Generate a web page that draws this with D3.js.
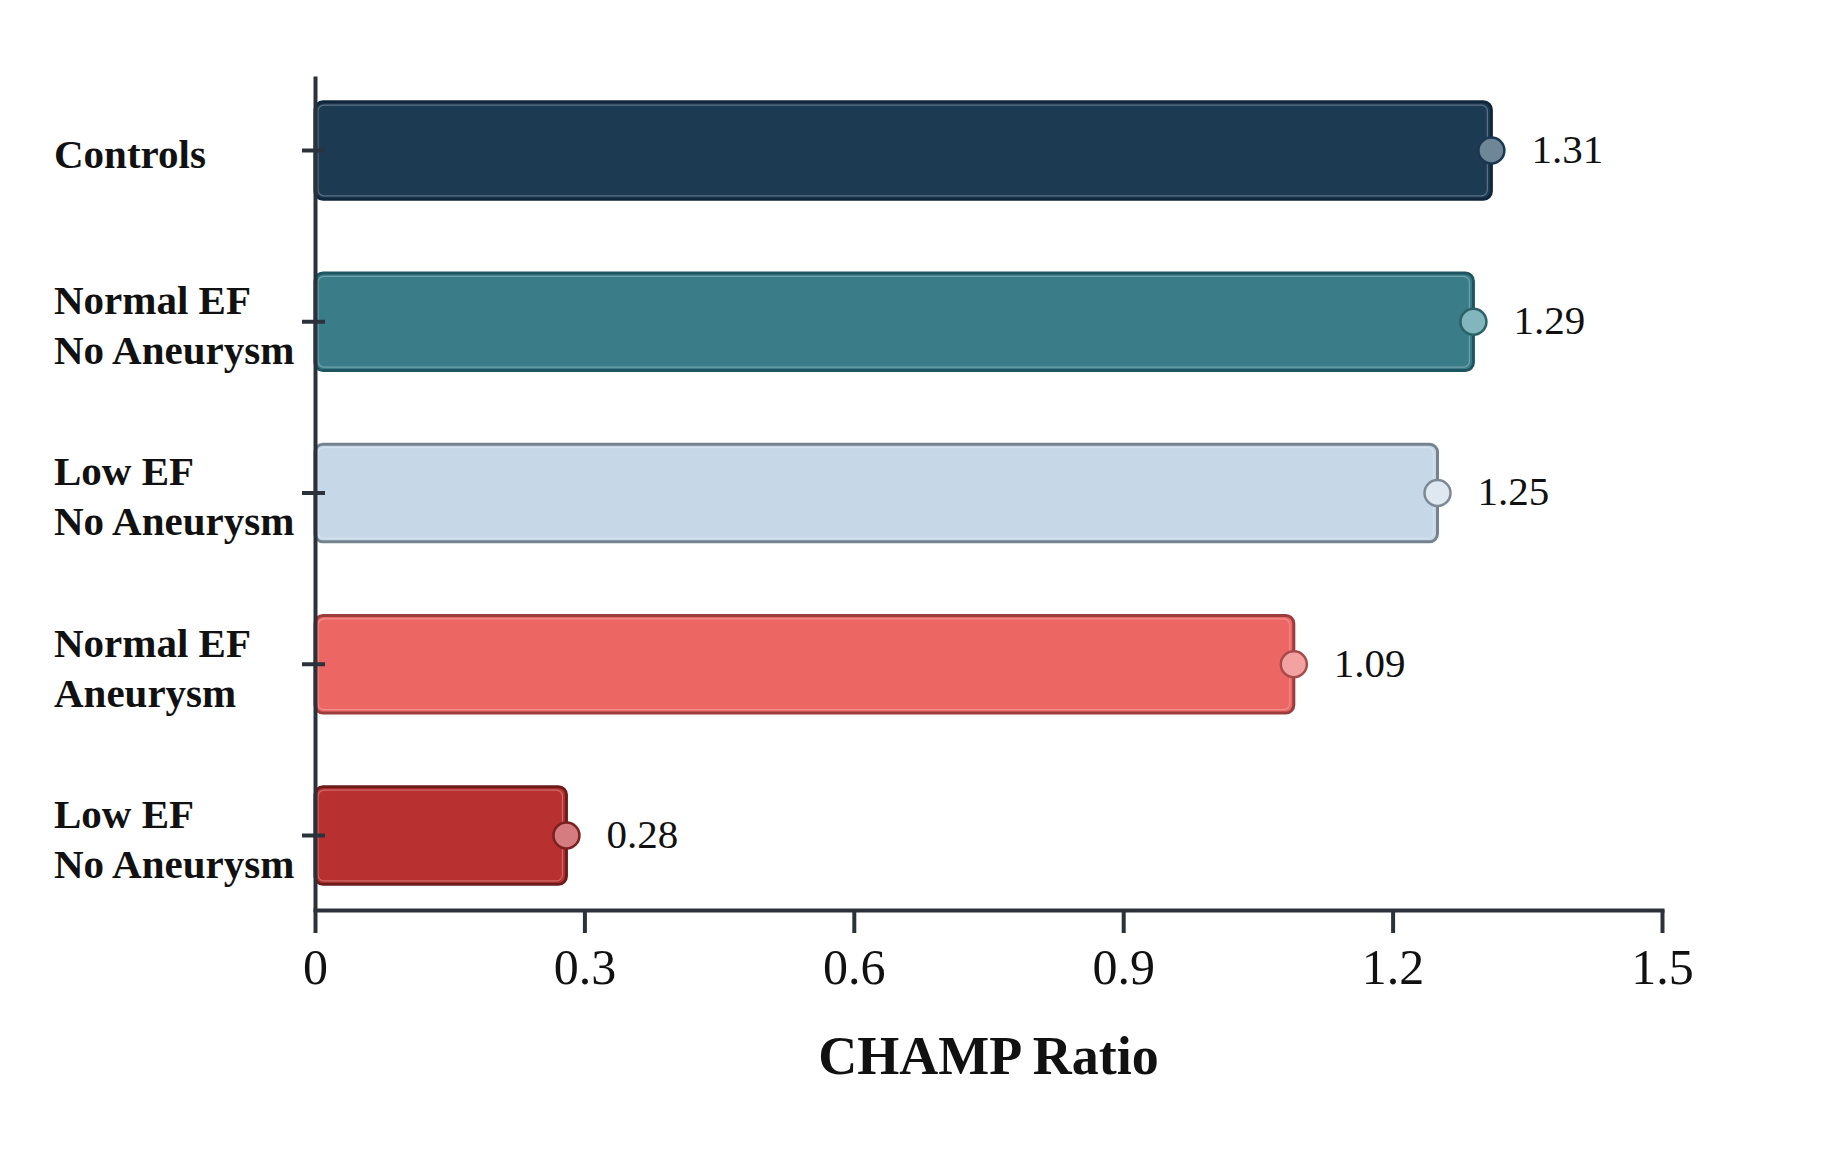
<!DOCTYPE html>
<html>
<head>
<meta charset="utf-8">
<script src="https://cdn.jsdelivr.net/npm/d3@7"></script>
<style>
  html, body { margin: 0; padding: 0; background: #fff; }
  svg { display: block; font-family: "Liberation Serif", "Times New Roman", serif; }
  .axis path, .axis line { stroke: #2b323b; stroke-width: 4; }
  .axis text { fill: #111; }
</style>
</head>
<body>
<div id="chart"></div>
<script>
// groups, top to bottom
const groupLines = [
  ["Controls"],
  ["Normal EF", "No Aneurysm"],
  ["Low EF", "No Aneurysm"],
  ["Normal EF", "Aneurysm"],
  ["Low EF", "No Aneurysm"]
];
const champRatio = [1.31, 1.29, 1.25, 1.09, 0.28];
const valueLabels = ["1.31", "1.29", "1.25", "1.09", "0.28"];

const xTicks = [0, 0.3, 0.6, 0.9, 1.2, 1.5];
const xTickLabels = ["0", "0.3", "0.6", "0.9", "1.2", "1.5"];
const xTitle = "CHAMP Ratio";

// fill / border / dot fill / dot border per bar
const barFill = ["#1d3a53", "#3a7d89", "#c6d7e8", "#ec6664", "#b83130"];
const barStroke = ["#10263a", "#1f5560", "#76828e", "#9c3d3d", "#6c1b1b"];
const dotFill = ["#6f8696", "#80b6bc", "#dfe7f0", "#f3a2a2", "#d57c80"];
const dotStroke = ["#1b3650", "#2a626a", "#7c8894", "#a84a4a", "#7c2020"];

const W = 1834, H = 1172;
const margin = { left: 315, right: 172, top: 76, bottom: 262 };

const svg = d3.select("#chart").append("svg")
  .attr("width", W)
  .attr("height", H);

const x = d3.scaleLinear()
  .domain([0, 1.5])
  .range([margin.left, W - margin.right]);

const y = d3.scaleBand()
  .domain(d3.range(groupLines.length))
  .range([margin.top, H - margin.bottom])
  .paddingInner(0.43)
  .paddingOuter(0.15);

// bars
const bars = svg.append("g").selectAll("g.bar")
  .data(champRatio)
  .join("g")
  .attr("class", "bar");

bars.append("rect")
  .attr("x", x(0))
  .attr("y", (d, i) => y(i))
  .attr("width", d => x(d) - x(0))
  .attr("height", y.bandwidth())
  .attr("rx", 8)
  .attr("fill", (d, i) => barFill[i])
  .attr("stroke", (d, i) => barStroke[i])
  .attr("stroke-width", 3);

// faint inner highlight line, like the original
bars.append("rect")
  .attr("x", x(0) + 3)
  .attr("y", (d, i) => y(i) + 3.5)
  .attr("width", d => x(d) - x(0) - 7)
  .attr("height", y.bandwidth() - 7)
  .attr("rx", 6)
  .attr("fill", "none")
  .attr("stroke", "rgba(255,255,255,0.28)")
  .attr("stroke-width", 1.2);

bars.append("circle")
  .attr("cx", d => x(d))
  .attr("cy", (d, i) => y(i) + y.bandwidth() / 2)
  .attr("r", 13)
  .attr("fill", (d, i) => dotFill[i])
  .attr("stroke", (d, i) => dotStroke[i])
  .attr("stroke-width", 2.5);

bars.append("text")
  .attr("x", d => x(d) + 40)
  .attr("y", (d, i) => y(i) + y.bandwidth() / 2)
  .attr("dy", "0.3em")
  .attr("font-size", 41)
  .attr("fill", "#111")
  .text((d, i) => valueLabels[i]);

// y axis (ticks cross the line)
const yAxis = svg.append("g")
  .attr("class", "axis")
  .attr("transform", `translate(${x(0)},0)`)
  .call(d3.axisLeft(y).tickSize(13).tickSizeOuter(0).tickFormat(""));
yAxis.selectAll(".tick line").attr("x1", 10);

// category labels, left aligned, block centred on the bar
const labels = svg.append("g").selectAll("text.cat")
  .data(groupLines)
  .join("text")
  .attr("class", "cat")
  .attr("x", 54)
  .attr("font-size", 41)
  .attr("font-weight", "bold")
  .attr("fill", "#111")
  .attr("y", (d, i) => y(i) + y.bandwidth() / 2 - (d.length - 1) * 25 + 3);

labels.selectAll("tspan")
  .data(d => d)
  .join("tspan")
  .attr("x", 54)
  .attr("dy", (d, i) => i === 0 ? "0.35em" : 50)
  .text(d => d);

// x axis
const xAxis = svg.append("g")
  .attr("class", "axis")
  .attr("transform", `translate(0,${H - margin.bottom})`)
  .call(d3.axisBottom(x)
    .tickValues(xTicks)
    .tickFormat((d, i) => xTickLabels[i])
    .tickSize(23)
    .tickSizeOuter(0)
    .tickPadding(15));
xAxis.selectAll("text").attr("font-size", 50).attr("font-family", "Liberation Serif");
xAxis.select(".domain").attr("stroke-linecap", "square");

svg.append("text")
  .attr("x", (x(0) + x(1.5)) / 2)
  .attr("y", 1074)
  .attr("text-anchor", "middle")
  .attr("font-size", 54)
  .attr("font-weight", "bold")
  .attr("fill", "#111")
  .text(xTitle);
</script>
</body>
</html>
